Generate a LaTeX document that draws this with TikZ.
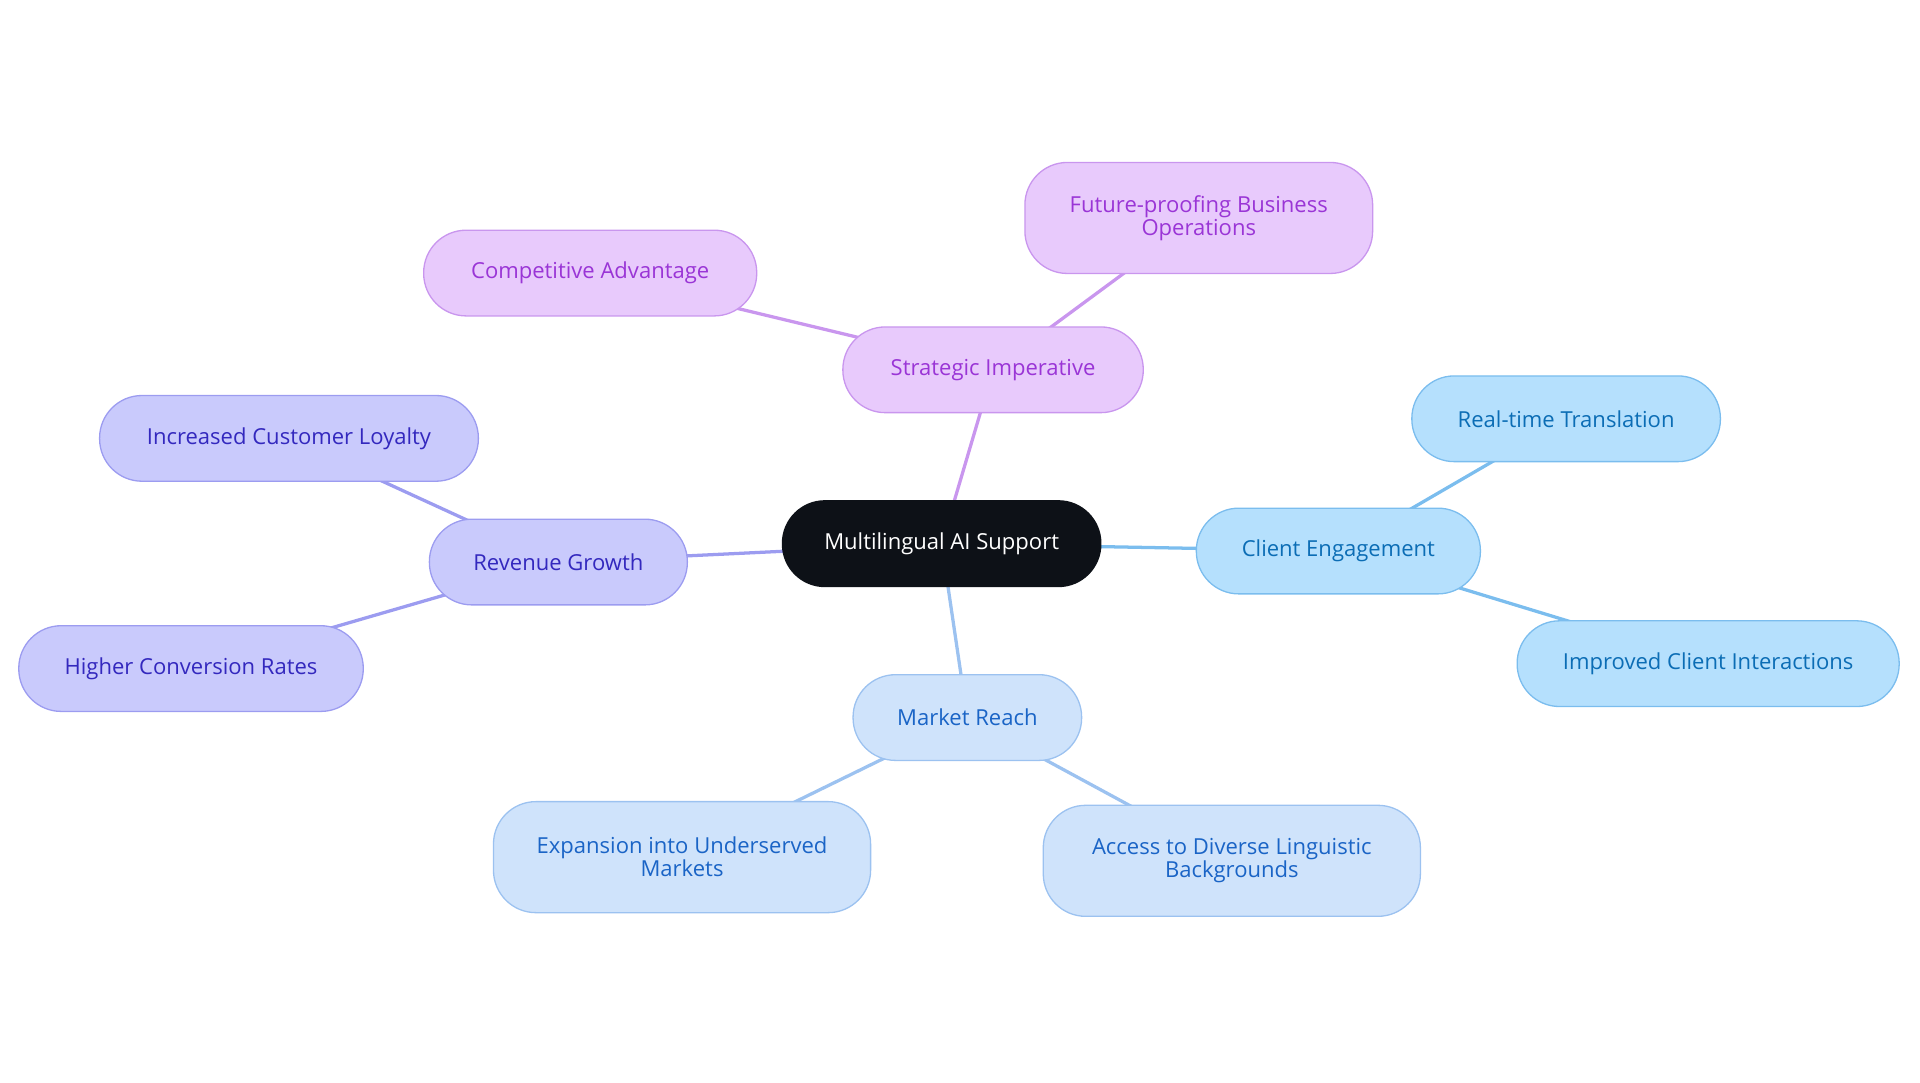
\documentclass[tikz,border=0pt]{standalone}
\usepackage{fontspec}
\setmainfont{Open Sans}
\definecolor{pF}{HTML}{E8CAFC}\definecolor{pD}{HTML}{C996EE}\definecolor{pT}{HTML}{9A35D6}
\definecolor{iF}{HTML}{C9CAFC}\definecolor{iD}{HTML}{9C9CF0}\definecolor{iT}{HTML}{3328BE}
\definecolor{cF}{HTML}{B5E0FD}\definecolor{cD}{HTML}{7BBDEE}\definecolor{cT}{HTML}{0B6DB5}
\definecolor{mF}{HTML}{CFE3FB}\definecolor{mD}{HTML}{9CC2F0}\definecolor{mT}{HTML}{1A64C6}
\definecolor{dk}{HTML}{0D1117}
\begin{document}
\begin{tikzpicture}[x=0.75pt,y=-0.75pt,
 box/.style={rounded corners=26pt,line width=0.8pt,align=center,inner sep=0pt,font=\fontsize{13.5}{14}\selectfont},
 pu/.style={box,fill=pF,draw=pD,text=pT},
 ind/.style={box,fill=iF,draw=iD,text=iT},
 cy/.style={box,fill=cF,draw=cD,text=cT},
 mr/.style={box,fill=mF,draw=mD,text=mT},
 e/.style={line width=2pt}]
\useasboundingbox (0,0) rectangle (1568,884);
\coordinate (c0) at (769,444);
\coordinate (s0) at (811,302);\coordinate (s1) at (482,223);\coordinate (s2) at (979,178);
\coordinate (r0) at (456,459);\coordinate (r1) at (236,358);\coordinate (r2) at (156,546);
\coordinate (g0) at (1093,450);\coordinate (g1) at (1279,342);\coordinate (g2) at (1395,542);
\coordinate (m0) at (790,586);\coordinate (m1) at (557,700);\coordinate (m2) at (1006,703);
\draw[e,pD] (c0)--(s0) (s0)--(s1) (s0)--(s2);
\draw[e,iD] (c0)--(r0) (r0)--(r1) (r0)--(r2);
\draw[e,cD] (c0)--(g0) (g0)--(g1) (g0)--(g2);
\draw[e,mD] (c0)--(m0) (m0)--(m1) (m0)--(m2);
\node[box,fill=dk,draw=dk,text=white,minimum width=195pt,minimum height=52.5pt] (c) at (c0) {Multilingual AI Support};
\node[pu,minimum width=184pt,minimum height=52.5pt] (s) at (s0) {Strategic Imperative};
\node[pu,minimum width=204pt,minimum height=52.5pt] (sa) at (s1) {Competitive Advantage};
\node[pu,minimum width=213pt,minimum height=68pt] (sb) at (s2) {Future-proofing Business\\Operations};
\node[ind,minimum width=158pt,minimum height=52.5pt] (r) at (r0) {Revenue Growth};
\node[ind,minimum width=232pt,minimum height=52.5pt] (ra) at (r1) {Increased Customer Loyalty};
\node[ind,minimum width=211pt,minimum height=52.5pt] (rb) at (r2) {Higher Conversion Rates};
\node[cy,minimum width=174pt,minimum height=52.5pt] (g) at (g0) {Client Engagement};
\node[cy,minimum width=189pt,minimum height=52.5pt] (ga) at (g1) {Real-time Translation};
\node[cy,minimum width=234pt,minimum height=52.5pt] (gb) at (g2) {Improved Client Interactions};
\node[mr,minimum width=140pt,minimum height=52.5pt] (m) at (m0) {Market Reach};
\node[mr,minimum width=231pt,minimum height=68pt] (ma) at (m1) {Expansion into Underserved\\Markets};
\node[mr,minimum width=231pt,minimum height=68pt] (mb) at (m2) {Access to Diverse Linguistic\\Backgrounds};
\end{tikzpicture}
\end{document}
